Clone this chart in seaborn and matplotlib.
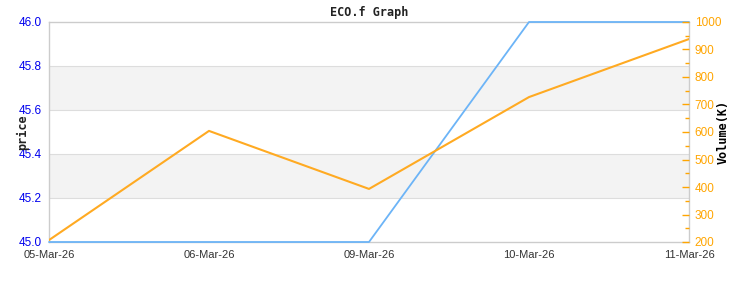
import matplotlib
matplotlib.use("Agg")
import matplotlib.pyplot as plt
import seaborn as sns
import numpy as np
from matplotlib.ticker import MultipleLocator

dates = ["05-Mar-26", "06-Mar-26", "09-Mar-26", "10-Mar-26", "11-Mar-26"]
price = [45.0, 45.0, 45.0, 46.0, 46.0]
volume = [207, 604, 393, 727, 938]

sns.set_style("white")
plt.rcParams['font.family'] = ['Liberation Sans', 'DejaVu Sans']

fig = plt.figure(figsize=(7.5, 2.93), dpi=100)
ax = fig.add_axes([49/750, 51/293, 640/750, 220/293])
x = np.arange(len(dates))

# background bands
for lo, hi in [(45.2, 45.4), (45.6, 45.8)]:
    ax.axhspan(lo, hi, color="#f3f3f3", zorder=0, lw=0)
for yv in [45.2, 45.4, 45.6, 45.8]:
    ax.axhline(yv, color="#dddddd", lw=0.8, zorder=0.5)

sns.lineplot(x=x, y=price, ax=ax, color="#6cb4f7", lw=1.3, zorder=3)
ax.lines[-1].set_clip_on(False)

ax.set_ylim(45.0, 46.0)
ax.set_xlim(0, len(dates) - 1)
ax.set_yticks([45.0, 45.2, 45.4, 45.6, 45.8, 46.0])
ax.set_yticklabels([f"{v:.1f}" for v in [45.0, 45.2, 45.4, 45.6, 45.8, 46.0]])
ax.set_xticks(x)
ax.set_xticklabels(dates)
ax.tick_params(axis='y', colors="#0000ee", labelsize=8.5, length=0, pad=5)
ax.tick_params(axis='x', colors="#333333", labelsize=8, length=0, pad=6)
ax.set_ylabel("price", family="DejaVu Sans Mono", fontsize=8.5, fontweight="bold", color="#222222")
ax.yaxis.set_label_coords(-0.031, 0.5)

for s in ax.spines.values():
    s.set_color("#cccccc")
    s.set_linewidth(1)
    s.set_zorder(2.5)

ax2 = ax.twinx()
sns.lineplot(x=x, y=volume, ax=ax2, color="#ffaa22", lw=1.5, zorder=4)
ax2.set_ylim(200, 1000)
ax2.set_yticks(np.arange(200, 1001, 100))
ax2.yaxis.set_minor_locator(MultipleLocator(50))
ax2.tick_params(axis='y', which='major', colors="#ffa500", labelsize=8.5, length=5, width=1, direction='in', pad=4)
ax2.tick_params(axis='y', which='minor', colors="#ffa500", length=3, width=1, direction='in')
ax2.set_ylabel("Volume(K)", family="DejaVu Sans Mono", fontsize=8.5, fontweight="bold", color="#000000")
ax2.yaxis.set_label_coords(1.043, 0.5)
for s in ax2.spines.values():
    s.set_visible(False)

ax.set_title("ECO.f Graph", family="DejaVu Sans Mono", fontsize=8.5, fontweight="bold", color="#222222", pad=4)

fig.savefig("out.png", dpi=100)
